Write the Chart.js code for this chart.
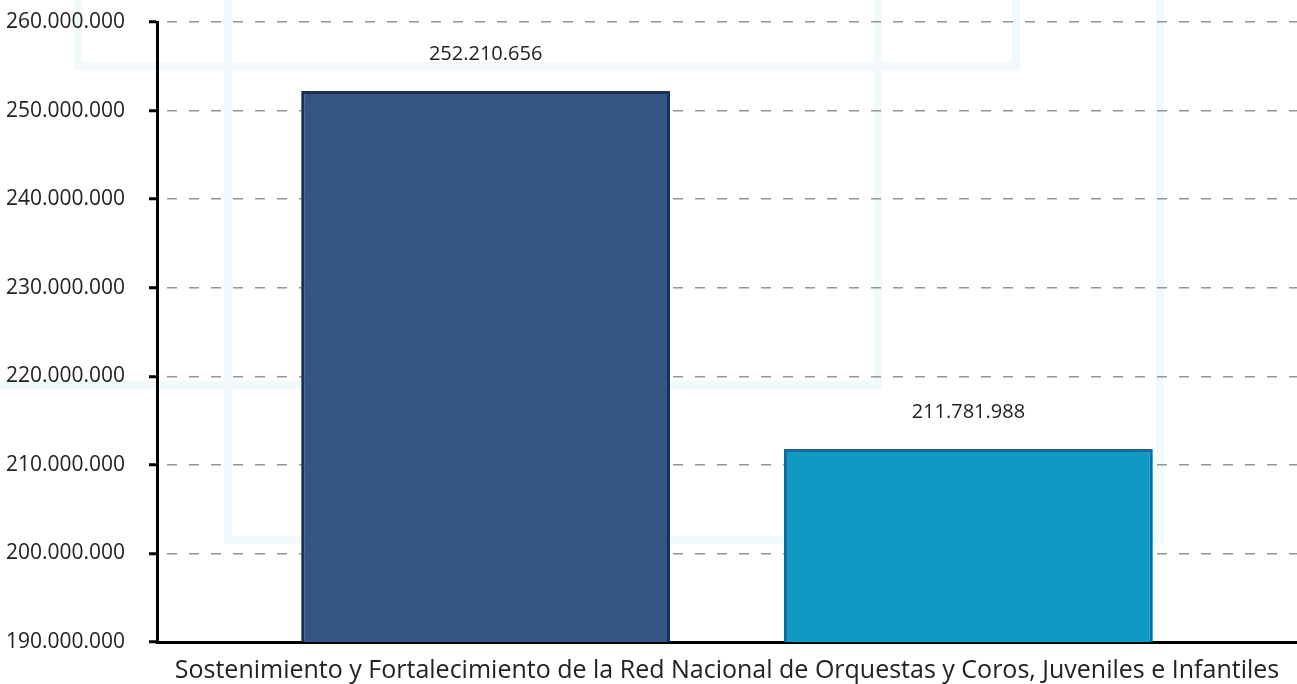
<!DOCTYPE html>
<html>
<head>
<meta charset="utf-8">
<script src="https://cdn.jsdelivr.net/npm/chart.js@4"></script>
<style>
  html, body { margin: 0; padding: 0; background: #fff; }
  #wrap { width: 1297px; height: 684px; }
</style>
</head>
<body>
<div id="wrap"><canvas id="myChart"></canvas></div>
<script>
// datos
var categorias = ['Sostenimiento y Fortalecimiento de la Red Nacional de Orquestas y Coros, Juveniles e Infantiles'];
var serie1 = [252210656];
var serie2 = [211781988];
var ejeMin = 190000000;
var ejeMax = 260000000;
var paso = 10000000;

function formato(v) {
    return String(Math.round(v)).replace(/\B(?=(\d{3})+(?!\d))/g, '.');
}

// marca de agua de fondo (muy tenue)
var fondo = {
    id: 'fondo',
    beforeDraw: function (chart) {
        var c = chart.ctx;
        c.save();
        c.strokeStyle = '#f1f9fc';
        c.lineWidth = 8;
        c.strokeRect(78, -20, 938, 86);
        c.strokeRect(228, -20, 932, 560);
        c.beginPath();
        c.moveTo(-10, 385);
        c.lineTo(878, 385);
        c.lineTo(878, -20);
        c.stroke();
        c.restore();
    }
};

var etiquetas = {
    id: 'etiquetas',
    afterDatasetsDraw: function (chart) {
        var c = chart.ctx;
        c.save();
        c.font = '20px "Open Sans"';
        c.fillStyle = '#222';
        c.textAlign = 'center';
        c.textBaseline = 'middle';
        chart.data.datasets.forEach(function (ds, i) {
            chart.getDatasetMeta(i).data.forEach(function (bar, j) {
                c.fillText(formato(ds.data[j]), bar.x, bar.y - 37);
            });
        });
        c.restore();
    }
};

var ctx = document.getElementById('myChart');
var myChart = new Chart(ctx, {
    type: 'bar',
    data: {
        labels: categorias,
        datasets: [{
            label: 'Serie 1',
            data: serie1,
            backgroundColor: '#365583',
            borderColor: '#17305f',
            borderWidth: 3,
            borderSkipped: 'bottom',
            categoryPercentage: 0.847,
            barPercentage: 0.764
        }, {
            label: 'Serie 2',
            data: serie2,
            backgroundColor: '#0f9ac4',
            borderColor: '#0a6fa0',
            borderWidth: 3,
            borderSkipped: 'bottom',
            categoryPercentage: 0.847,
            barPercentage: 0.764
        }]
    },
    options: {
        responsive: true,
        maintainAspectRatio: false,
        animation: false,
        layout: { padding: { top: 0, right: 0, left: 0, bottom: 0 } },
        plugins: {
            legend: { display: false },
            tooltip: { enabled: false }
        },
        scales: {
            x: {
                grid: { display: false, drawTicks: false },
                border: { color: '#000', width: 3 },
                ticks: {
                    color: '#222',
                    padding: 14,
                    font: { family: '"Open Sans"', size: 25 }
                },
                afterFit: function (scale) { scale.height = 42; }
            },
            y: {
                min: ejeMin,
                max: ejeMax,
                grid: {
                    color: '#959595',
                    lineWidth: 1.5,
                    tickColor: '#000',
                    tickWidth: 3,
                    tickLength: 8,
                    tickBorderDash: [0, 0]
                },
                border: { color: '#000', width: 3, dash: [10, 12], dashOffset: -8 },
                ticks: {
                    stepSize: paso,
                    color: '#222',
                    padding: 24,
                    font: { family: '"Open Sans"', size: 21 },
                    callback: function (v) { return formato(v); }
                },
                afterFit: function (scale) {
                    scale.width = 157;
                    scale.paddingTop = 22;
                }
            }
        }
    },
    plugins: [fondo, etiquetas]
});
</script>
</body>
</html>
